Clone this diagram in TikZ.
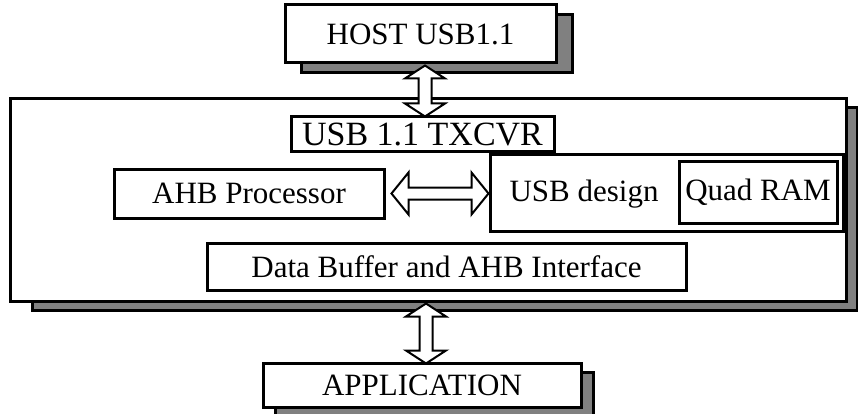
\documentclass[tikz,border=0pt]{standalone}
\usepackage{fontspec}
\setmainfont{Liberation Serif}
\usetikzlibrary{calc}
\tikzset{
  box/.style={draw=black, line width=3pt, fill=white, inner sep=0pt, rectangle,
    font=\fontsize{31}{36}\selectfont},
  shadowbox/.style={draw=black, line width=3pt, fill=black!50},
  fat/.style={draw=black, line width=2pt, fill=white, line join=miter},
}
\newcommand\vfat[2]{%
  \draw[fat] let \p1=(#1), \p2=(#2) in
    (\x1,\y1) -- ({\x1+20pt},{\y1-13pt}) -- ({\x1+6.5pt},{\y1-13pt})
    -- ({\x1+6.5pt},{\y2+13pt}) -- ({\x1+20pt},{\y2+13pt}) -- (\x1,\y2)
    -- ({\x1-20pt},{\y2+13pt}) -- ({\x1-6.5pt},{\y2+13pt})
    -- ({\x1-6.5pt},{\y1-13pt}) -- ({\x1-20pt},{\y1-13pt}) -- cycle;}
\newcommand\hfat[2]{%
  \draw[fat] let \p1=(#1), \p2=(#2) in
    (\x1,\y1) -- ({\x1+17pt},{\y1+21pt}) -- ({\x1+17pt},{\y1+6pt})
    -- ({\x2-17pt},{\y1+6pt}) -- ({\x2-17pt},{\y1+21pt}) -- (\x2,\y1)
    -- ({\x2-17pt},{\y1-21pt}) -- ({\x2-17pt},{\y1-6pt})
    -- ({\x1+17pt},{\y1-6pt}) -- ({\x1+17pt},{\y1-21pt}) -- cycle;}
\begin{document}
\begin{tikzpicture}[x=1pt,y=-1pt]
\useasboundingbox (0,0) rectangle (858,414);
% shadows
\draw[shadowbox] (301,15) rectangle (572,73);
\draw[shadowbox] (32,108) rectangle (857,310);
\draw[shadowbox] (275,372) rectangle (593,425);
% boxes
\node[box, minimum width=271pt, minimum height=58pt] (host) at (420.5,34) {HOST USB1.1};
\node[box, minimum width=836pt, minimum height=202pt] (big) at (428,200) {};
\node[box, minimum width=263pt, minimum height=35pt, font=\fontsize{34}{36}\selectfont] (txcvr) at (422.5,134.5) {USB 1.1 TXCVR};
\node[box, minimum width=270pt, minimum height=49pt] (ahb) at (249,193.5) {AHB Processor};
\node[box, minimum width=353pt, minimum height=76pt] (usb) at (666.5,193) {};
\node[font=\fontsize{31}{36}\selectfont, inner sep=0pt] (usbtxt) at (584,194) {USB design};
\node[box, minimum width=158pt, minimum height=61pt] (quad) at (758,192.5) {Quad RAM};
\node[box, minimum width=479pt, minimum height=47pt] (data) at (446.5,266.5) {Data Buffer and AHB Interface};
\node[box, minimum width=318pt, minimum height=44pt] (app) at (422,385) {APPLICATION};
% connectors
\vfat{[xshift=4.5pt,yshift=-1pt]host.south}{[yshift=-1pt]txcvr.north}
\hfat{[xshift=6pt]ahb.east}{usb.west}
\vfat{[xshift=-2pt,yshift=-1pt]big.south}{[yshift=-2pt]app.north}
\end{tikzpicture}
\end{document}
